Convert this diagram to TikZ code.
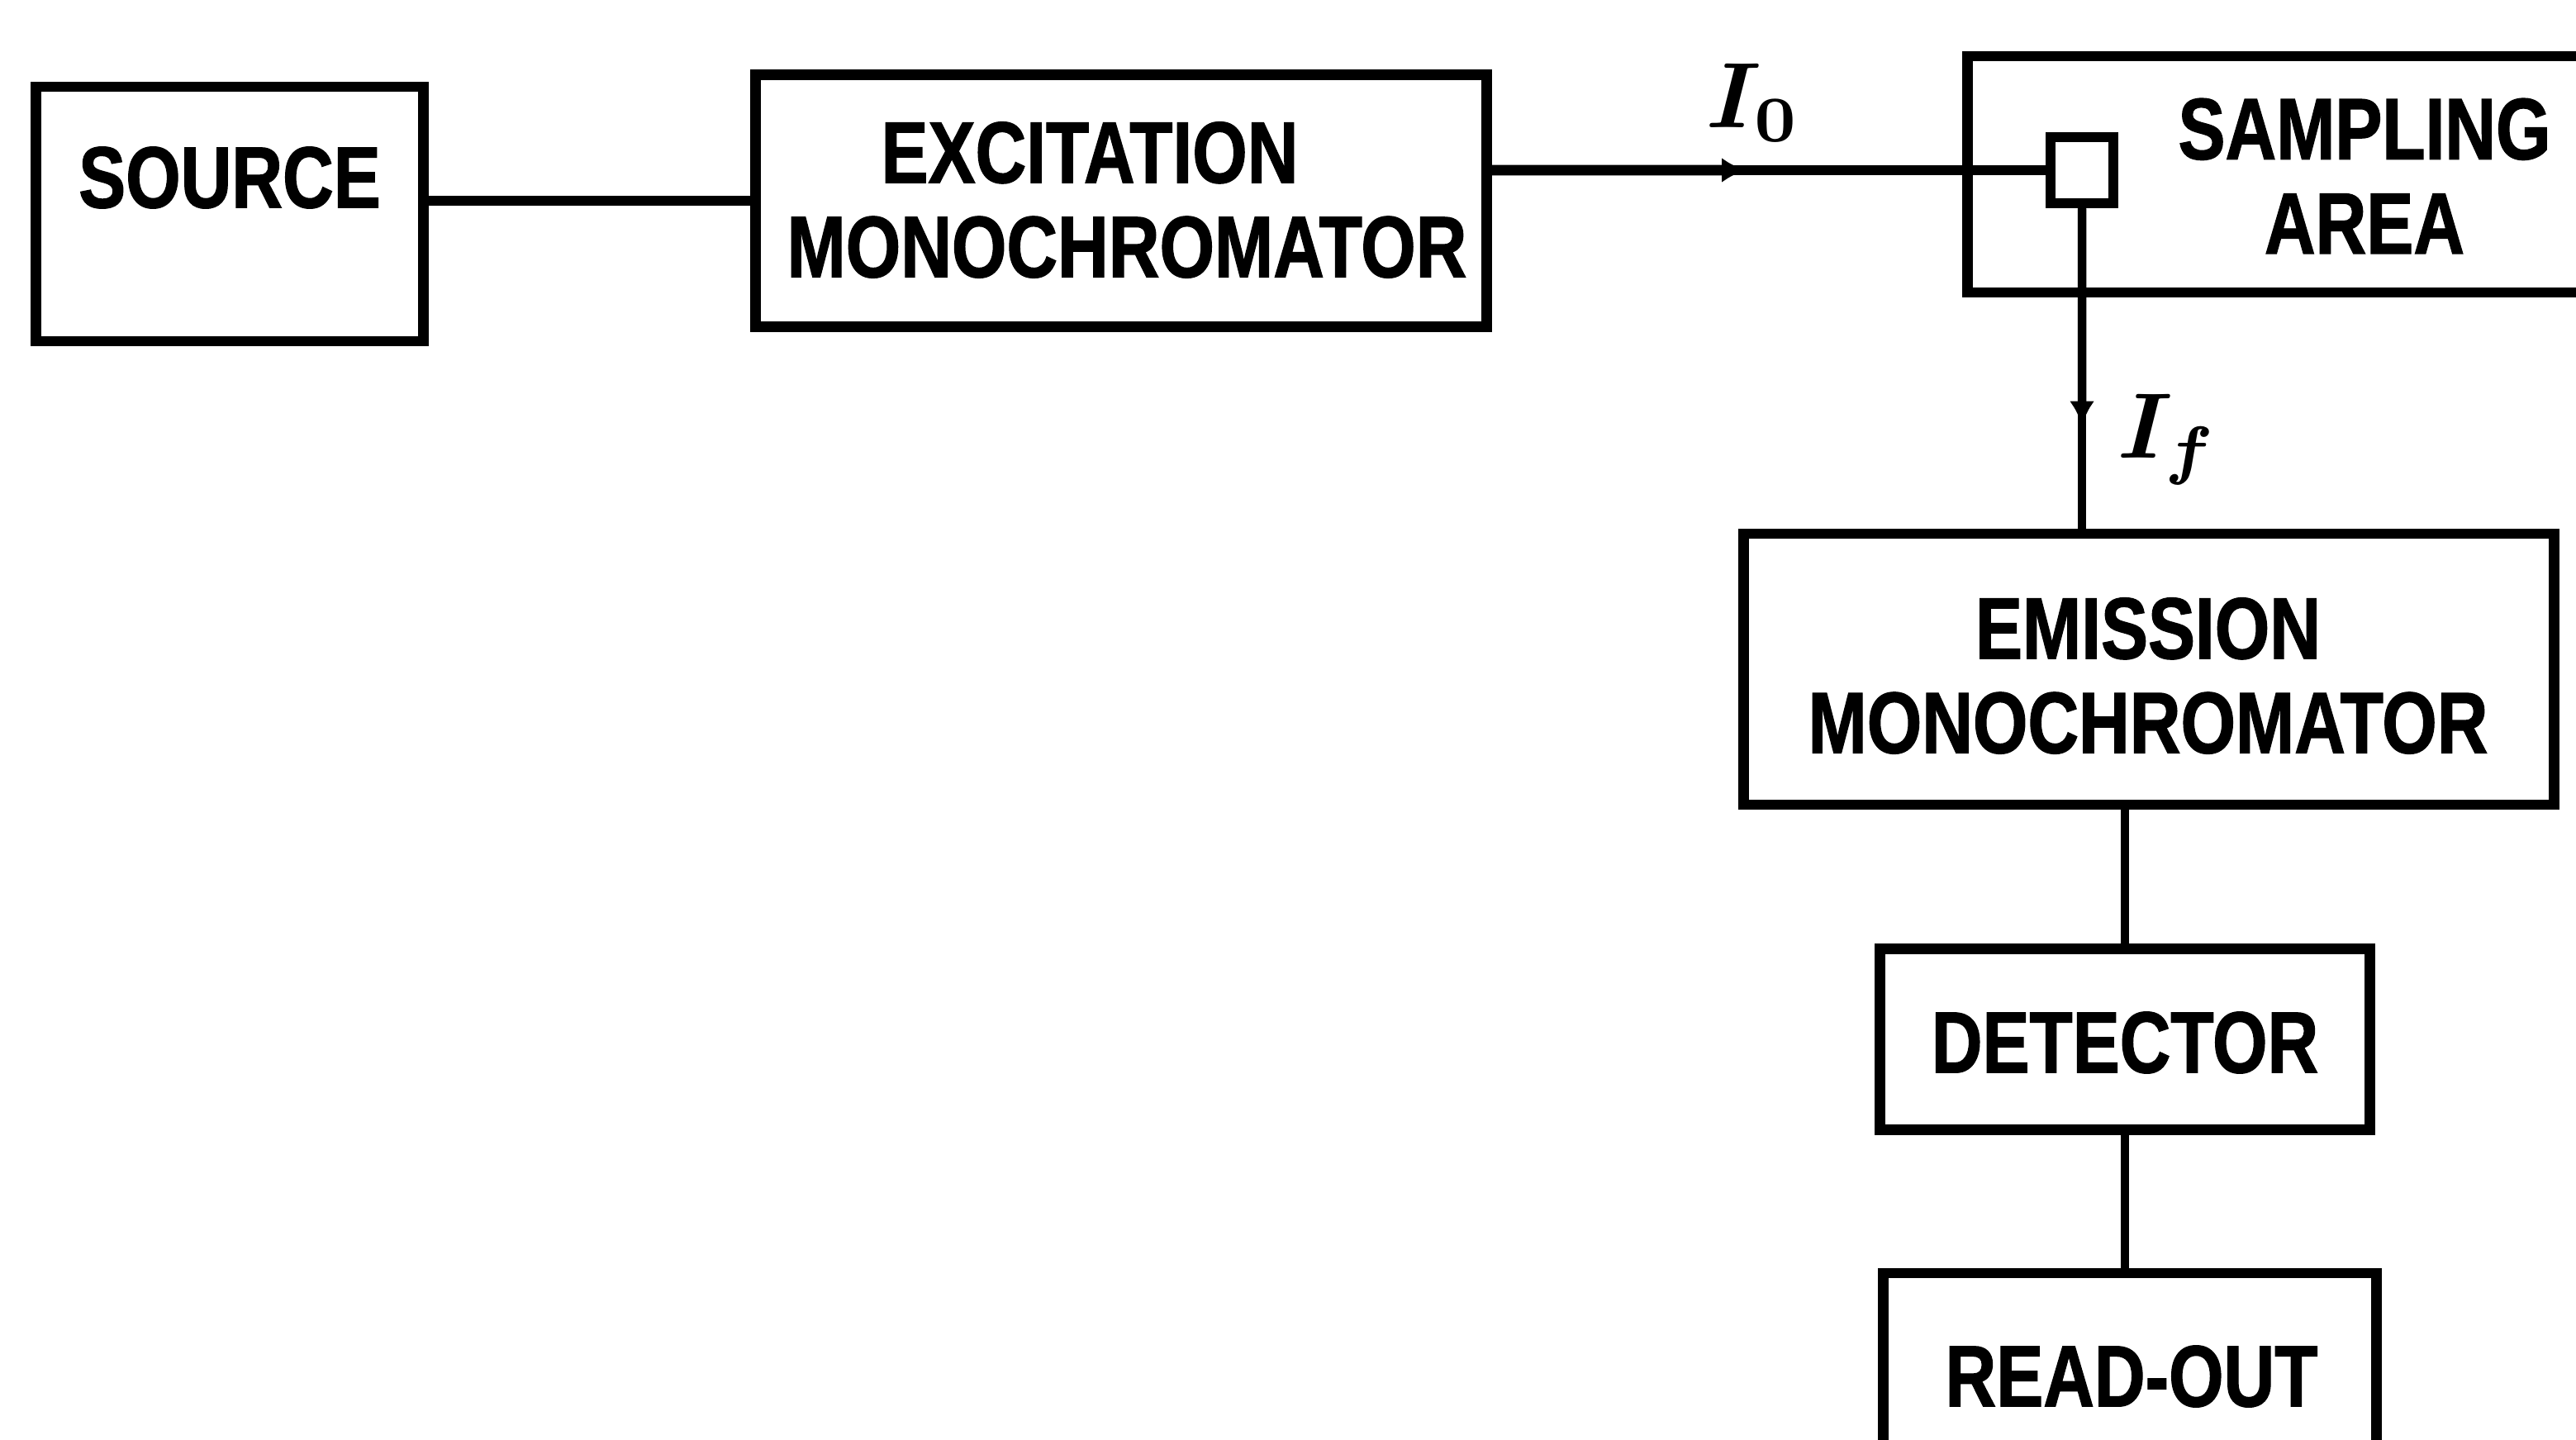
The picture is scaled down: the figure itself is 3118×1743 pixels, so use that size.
\documentclass[tikz,border=0pt]{standalone}
\usepackage{fontspec}
\usepackage{amsmath}
\usepackage{graphicx}
\newfontfamily\lblfont[FakeStretch=0.81, BoldFeatures={FakeBold=1.2}]{Liberation Sans}
\usetikzlibrary{arrows.meta,calc}
\tikzset{
  box/.style={draw, line width=3.6pt, inner sep=0pt},
  lbl/.style={font=\lblfont\bfseries\fontsize{30}{32.5}\selectfont, align=center, inner sep=0pt},
  wire/.style={line width=3pt},
  thickwire/.style={line width=3.6pt},
  tipped/.style={-{Latex[length=0.3cm,width=0.3cm]}},
  sym/.style={inner sep=0pt}
}
\begin{document}
\begin{tikzpicture}[x=0.01cm,y=-0.01cm]
\useasboundingbox (0,0) rectangle (3118,1743);
% boxes
\node[box, minimum width=4.69cm, minimum height=3.08cm] (source) at (278,259) {};
\node[lbl] (sourcet) at (278,215) {SOURCE};
\node[box, minimum width=8.85cm, minimum height=3.05cm] (exc) at (1357,243) {};
\node[lbl] (exct) at (1364,242) {EXCITATION\hspace*{0.9cm}\\MONOCHROMATOR};
\node[box, minimum width=8.18cm, minimum height=2.86cm] (samp) at (2791,211) {};
\node[lbl] (sampt) at (2862,213) {SAMPLING\\AREA};
\node[box, minimum width=0.76cm, minimum height=0.8cm] (sq) at (2520,206) {};
\node[box, minimum width=9.81cm, minimum height=3.28cm] (em) at (2601,810) {};
\node[lbl] (emt) at (2600,818) {EMISSION\\MONOCHROMATOR};
\node[box, minimum width=5.93cm, minimum height=2.19cm] (det) at (2572,1258) {};
\node[lbl] (dett) at (2572,1262) {DETECTOR};
\node[box, minimum width=5.97cm, minimum height=2.2cm] (ro) at (2578,1651) {};
\node[lbl] (rot) at (2580,1666) {READ-OUT};
% labels
\node[sym] (izero) at (2123,124) {\scalebox{3.2}{$\boldsymbol{I_0}$}};
\node[sym] (ifl) at (2624,532) {\scalebox{3.2}{$\boldsymbol{I_f}$}};
% arrow midpoints
\coordinate (m1) at ($(exc.east |- sq.west)!0.46!(sq.west)$);
\coordinate (m2) at ($(sq.south)!0.68!(sq.south |- em.north)$);
% connectors
\draw[thickwire] (source.east |- exc.west) -- (exc.west);
\draw[thickwire] (exc.east |- sq.west) -- (sq.west);
\draw[thickwire, tipped] (exc.east |- sq.west) -- (m1);
\draw[wire] (sq.south) -- (sq.south |- em.north);
\draw[wire, tipped] (sq.south) -- (m2);
\draw[wire] (det.north |- em.south) -- (det.north);
\draw[wire] (det.south) -- (det.south |- ro.north);
\end{tikzpicture}
\end{document}
